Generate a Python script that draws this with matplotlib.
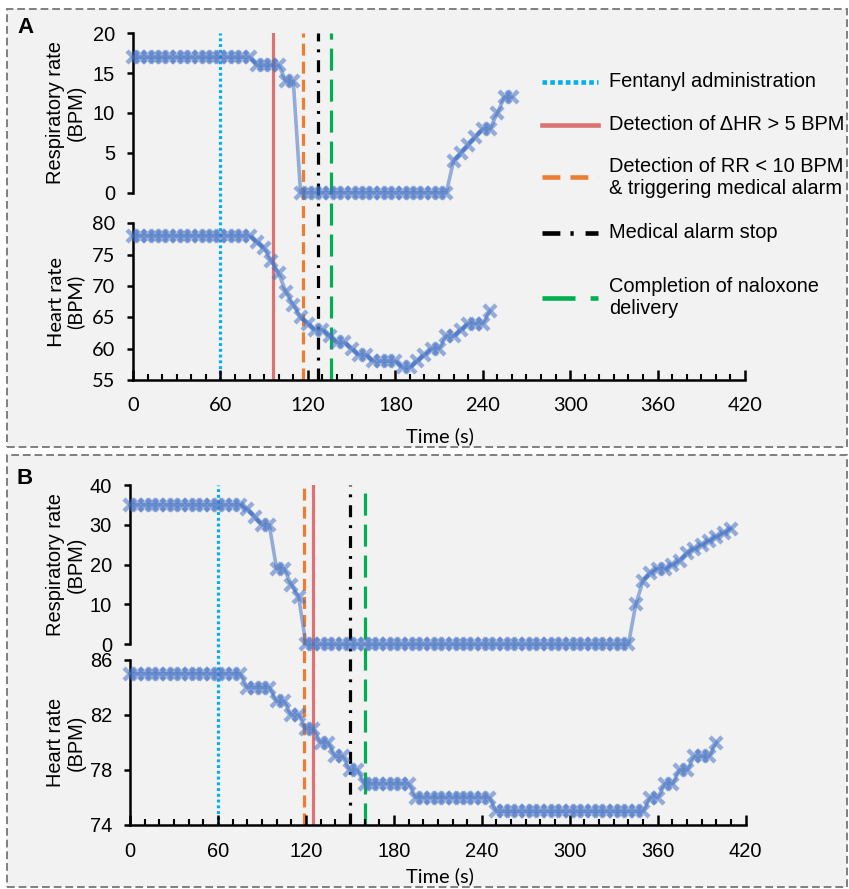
import numpy as np
import matplotlib
matplotlib.use("Agg")
import matplotlib.pyplot as plt
from matplotlib.lines import Line2D
from matplotlib.patches import Rectangle

SAMPLE_S = 5  # monitor sampling interval (s)

# Panel A: respiratory rate / heart rate, one value every SAMPLE_S seconds from t=0
rr_a = [17] * 17 + [16] * 4 + [14] * 2 + [0] * 21 + [4, 5, 6, 7, 8, 8, 10, 12, 12]
hr_a = ([78] * 17 + [77, 76, 74, 72, 69, 67, 65, 64, 63, 63, 62, 61, 61, 60, 59, 59,
                     58, 58, 58, 58, 57, 57, 58, 59, 60, 60, 62, 62, 63, 64, 64, 64, 66])

# Panel B
rr_b = ([35] * 16 + [34, 32, 30, 30, 19, 19, 15, 12] + [0] * 45
        + [10, 16, 18, 19, 19, 20, 21, 23, 24, 25, 26, 27, 28, 29])
hr_b = ([85] * 16 + [84] * 4 + [83] * 2 + [82] * 2 + [81] * 2 + [80] * 2 + [79] * 2
        + [78] * 2 + [77] * 7 + [76] * 11 + [75] * 21 + [76] * 2 + [77] * 2 + [78] * 2
        + [79] * 3 + [80])

# Event markers (s)
event_labels = ["Fentanyl administration",
                "Detection of \u0394HR > 5 BPM",
                "Detection of RR < 10 BPM\n& triggering medical alarm",
                "Medical alarm stop",
                "Completion of naloxone\ndelivery"]
event_times_a = [60, 96, 117, 127, 136]
event_times_b = [60, 125, 119, 150, 160]

time_ticks = [0, 60, 120, 180, 240, 300, 360, 420]
rr_ticks_a = [0, 5, 10, 15, 20]
hr_ticks_a = [55, 60, 65, 70, 75, 80]
rr_ticks_b = [0, 10, 20, 30, 40]
hr_ticks_b = [74, 78, 82, 86]

W, H = 849, 889
DATA_C = "#4472c4"
ARIAL = "Liberation Sans"
CALIBRI = "Lato"
FS = 14.4

event_styles = [
    dict(color="#00b0f0", ls=(0, (0.9, 0.9)), leg_ls=(0, (1.0, 0.7))),
    dict(color="#dc7272", ls="-", leg_ls="-"),
    dict(color="#ed7d31", ls=(0, (3.75, 1.9)), leg_ls=(0, (3.9, 2.2))),
    dict(color="black", ls=(0, (3.75, 2.5, 0.9, 2.5)), leg_ls=(0, (3.9, 2.2, 0.7, 2.6))),
    dict(color="#00b050", ls=(0, (6.9, 2.8)), leg_ls=(0, (7.2, 3.3))),
]

plt.rcParams["font.family"] = [ARIAL, "DejaVu Sans"]
fig = plt.figure(figsize=(W / 100, H / 100), dpi=100)


def fx(px):
    return px / W


def fy(py):
    return 1 - py / H


def add_axes_px(left, right, top, bottom):
    return fig.add_axes([fx(left), fy(bottom), (right - left) / W, (bottom - top) / H])


def plot_series(ax, values):
    t = np.arange(len(values)) * SAMPLE_S
    ax.plot(t, values, color=DATA_C, lw=2.6, alpha=0.55, marker="x", ms=8, mew=3.2,
            clip_on=False, zorder=3)


def style_y(ax, ticks, font):
    ax.set_xlim(0, 420)
    ax.set_ylim(ticks[0], ticks[-1])
    ax.set_yticks(ticks)
    ax.set_facecolor("none")
    for s in ["top", "right"]:
        ax.spines[s].set_visible(False)
    ax.spines["left"].set_linewidth(1.8)
    ax.tick_params(axis="y", direction="out", length=4, width=1.8, pad=9,
                   labelsize=FS, labelfontfamily=font)


def draw_panel(letter, left, right, rr_box, hr_box, rr, hr, rr_ticks, hr_ticks,
               events, tick_font, hr_font, time_y):
    # event lines span both sub-plots
    ov = add_axes_px(left, right, rr_box[0], hr_box[1])
    ov.set_xlim(0, 420)
    ov.set_ylim(0, 1)
    ov.axis("off")
    ov.set_zorder(0)
    for t, st in zip(events, event_styles):
        ov.axvline(t, color=st["color"], ls=st["ls"], lw=2.3)

    ax_rr = add_axes_px(left, right, rr_box[0], rr_box[1])
    ax_rr.set_zorder(1)
    plot_series(ax_rr, rr)
    style_y(ax_rr, rr_ticks, ARIAL)
    ax_rr.spines["bottom"].set_visible(False)
    ax_rr.set_xticks([])

    ax_hr = add_axes_px(left, right, hr_box[0], hr_box[1])
    ax_hr.set_zorder(1)
    plot_series(ax_hr, hr)
    style_y(ax_hr, hr_ticks, hr_font)
    ax_hr.spines["bottom"].set_linewidth(1.8)
    ax_hr.set_xticks(time_ticks)
    ax_hr.set_xticks(range(0, 421, 10), minor=True)
    ax_hr.tick_params(axis="x", which="major", direction="in", length=7, width=1.8,
                      pad=12, labelsize=FS, labelfontfamily=tick_font)
    ax_hr.tick_params(axis="x", which="minor", direction="in", length=4, width=1.5)

    for ax, label, font in [(ax_rr, "Respiratory rate\n(BPM)", ARIAL),
                            (ax_hr, "Heart rate\n(BPM)", hr_font)]:
        bb = ax.get_position()
        fig.text(fx(66), bb.y0 + bb.height / 2, label, rotation=90, ha="center",
                 va="center", fontsize=FS, family=font, multialignment="center",
                 linespacing=1.1)

    fig.text(fx(440), fy(time_y), "Time (s)", ha="center", va="center",
             fontsize=FS, family=CALIBRI)
    fig.text(fx(25), fy(rr_box[0] - 6), letter, ha="center", va="center",
             fontsize=16, fontweight="bold")


# panel backgrounds
for top, bottom in [(9, 447), (455, 887)]:
    fig.patches.append(Rectangle((fx(7), fy(bottom)), fx(847) - fx(7), fy(top) - fy(bottom),
                                 transform=fig.transFigure, facecolor="#f2f2f2",
                                 edgecolor="#7f7f7f", linestyle=(0, (4, 2)),
                                 linewidth=1.4, zorder=-5))

draw_panel("A", 133, 745, (33.3, 192.7), (223.3, 380), rr_a, hr_a, rr_ticks_a,
           hr_ticks_a, event_times_a, CALIBRI, CALIBRI, 436)
draw_panel("B", 130, 745.7, (485, 644.3), (660, 825), rr_b, hr_b, rr_ticks_b,
           hr_ticks_b, event_times_b, ARIAL, ARIAL, 876)

# legend
legend_rows = [81.7, 125, 177, 233, 298]
for label, st, y in zip(event_labels, event_styles, legend_rows):
    fig.add_artist(Line2D([fx(542), fx(598)], [fy(y), fy(y)], transform=fig.transFigure,
                          color=st["color"], ls=st["leg_ls"], lw=3.3))
    fig.text(fx(609), fy(y), label, ha="left", va="center", fontsize=FS,
             linespacing=1.2)

fig.savefig("out.png", dpi=100, facecolor="white")
